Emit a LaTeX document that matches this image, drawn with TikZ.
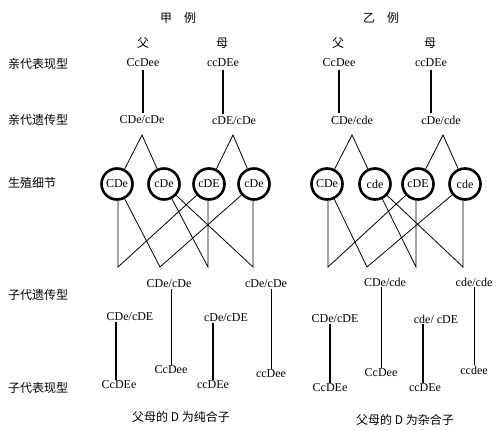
\documentclass[tikz,border=0pt]{standalone}
\usepackage{fontspec}
\setmainfont{Liberation Serif}
\newfontfamily\cjk{Noto Sans CJK SC}
\begin{document}
\begin{tikzpicture}[x=1pt,y=-1pt,
  lbl/.style={font=\cjk\fontsize{12}{14}\selectfont, anchor=west, inner sep=0pt},
  captxt/.style={font=\cjk\fontsize{12}{14}\selectfont, inner sep=0pt},
  gt/.style={font=\fontsize{12}{14}\selectfont, inner sep=1pt},
  cell/.style={circle, draw, line width=2.6pt, minimum size=31pt, inner sep=0pt, font=\fontsize{12}{14}\selectfont},
  ln/.style={line width=0.8pt},
  vln/.style={line width=1.4pt}]
\useasboundingbox (0,0) rectangle (498,431);

% row labels
\node[lbl] (r1) at (8,64) {亲代表现型};
\node[lbl] (r2) at (8,120) {亲代遗传型};
\node[lbl] (r3) at (8,183) {生殖细节};
\node[lbl] (r4) at (8,295) {子代遗传型};
\node[lbl] (r5) at (8,388) {子代表现型};

% ===== left case =====
\node[captxt] (tA) at (178,18) {甲\hspace{1em}例};
\node[captxt] (fA) at (143,43) {父};
\node[captxt] (mA) at (222,43) {母};
\node[gt] (pA1) at (143,63) {CcDee};
\node[gt] (pA2) at (223,63) {ccDEe};
\node[gt] (gA1) at (142,120) {CDe/cDe};
\node[gt] (gA2) at (234,121) {cDE/cDe};
\draw[vln,shorten <=2pt,shorten >=2pt] (pA1.south) -- (pA1.south |- gA1.north);
\draw[vln,shorten <=2pt,shorten >=2pt] (pA2.south) -- (pA2.south |- gA2.north);

\coordinate (aA1) at (142,135);
\coordinate (aA2) at (233,135);
\node[cell] (cA1) at (117,184) {CDe};
\node[cell] (cA2) at (164,184) {cDe};
\node[cell] (cA3) at (209,184) {cDE};
\node[cell] (cA4) at (254,184) {cDe};
\draw[ln] (cA1) -- (aA1) -- (cA2);
\draw[ln] (cA3) -- (aA2) -- (cA4);

\coordinate (bA1) at (118,267);
\coordinate (bA2) at (160,267);
\coordinate (bA3) at (208,267);
\coordinate (bA4) at (253,267);
\draw[ln] (cA1.south -| bA1) -- (bA1) -- (cA3);
\draw[ln] (cA1) -- (bA2) -- (cA4);
\draw[ln] (cA2) -- (bA3) -- (cA3.south -| bA3);
\draw[ln] (cA2) -- (bA4) -- (cA4.south -| bA4);

\node[gt] (oA2) at (169,284) {CDe/cDe};
\node[gt] (oA4) at (266,284) {cDe/cDe};
\node[gt] (oA1) at (130,317) {CDe/cDE};
\node[gt] (oA3) at (226,318) {cDe/cDE};
\node[gt] (hA1) at (119,385) {CcDEe};
\node[gt] (hA2) at (171,370) {CcDee};
\node[gt] (hA3) at (213,385) {ccDEe};
\node[gt] (hA4) at (271,374) {ccDee};
\draw[vln] (hA1.north -| 116,0) -- (oA1.south -| 116,0);
\draw[ln] (hA2.north) -- (hA2.north |- oA2.south);
\draw[vln] (hA3.north) -- (hA3.north |- oA3.south);
\draw[ln] (hA4.north) -- (hA4.north |- oA4.south);
\node[captxt] (kA) at (181,417) {父母的 D 为纯合子};

% ===== right case =====
\node[captxt] (tB) at (381,18) {乙\hspace{1em}例};
\node[captxt] (fB) at (338,43) {父};
\node[captxt] (mB) at (430,43) {母};
\node[gt] (pB1) at (339,63) {CcDee};
\node[gt] (pB2) at (431,63) {ccDEe};
\node[gt] (gB1) at (352,120) {CDe/cde};
\node[gt] (gB2) at (441,120) {cDe/cde};
\draw[vln,shorten <=2pt,shorten >=2pt] (pB1.south) -- (pB1.south |- gB1.north);
\draw[vln,shorten <=2pt,shorten >=2pt] (pB2.south) -- (pB2.south |- gB2.north);

\coordinate (aB1) at (352,135);
\coordinate (aB2) at (443,135);
\node[cell] (cB1) at (327,184) {CDe};
\node[cell] (cB2) at (375,184) {cde};
\node[cell] (cB3) at (418,184) {cDE};
\node[cell] (cB4) at (465,184) {cde};
\draw[ln] (cB1) -- (aB1) -- (cB2);
\draw[ln] (cB3) -- (aB2) -- (cB4);

\coordinate (bB1) at (328,267);
\coordinate (bB2) at (367,267);
\coordinate (bB3) at (416,267);
\coordinate (bB4) at (463,267);
\draw[ln] (cB1.south -| bB1) -- (bB1) -- (cB3);
\draw[ln] (cB1) -- (bB2) -- (cB4);
\draw[ln] (cB2) -- (bB3) -- (cB3.south -| bB3);
\draw[ln] (cB2) -- (bB4) -- (cB4.south -| bB4);

\node[gt] (oB2) at (385,282) {CDe/cde};
\node[gt] (oB4) at (474,282) {cde/cde};
\node[gt] (oB1) at (335,319) {CDe/cDE};
\node[gt] (oB3) at (436,319) {cde/ cDE};
\node[gt] (hB1) at (330,388) {CcDEe};
\node[gt] (hB2) at (381,373) {CcDee};
\node[gt] (hB3) at (425,388) {ccDEe};
\node[gt] (hB4) at (474,370) {ccdee};
\draw[vln] (hB1.north) -- (hB1.north |- oB1.south);
\draw[ln] (hB2.north) -- (hB2.north |- oB2.south);
\draw[vln] (hB3.north -| 423,0) -- (oB3.south -| 423,0);
\draw[ln] (hB4.north) -- (hB4.north |- oB4.south);
\node[captxt] (kB) at (405,420) {父母的 D 为杂合子};
\end{tikzpicture}
\end{document}
